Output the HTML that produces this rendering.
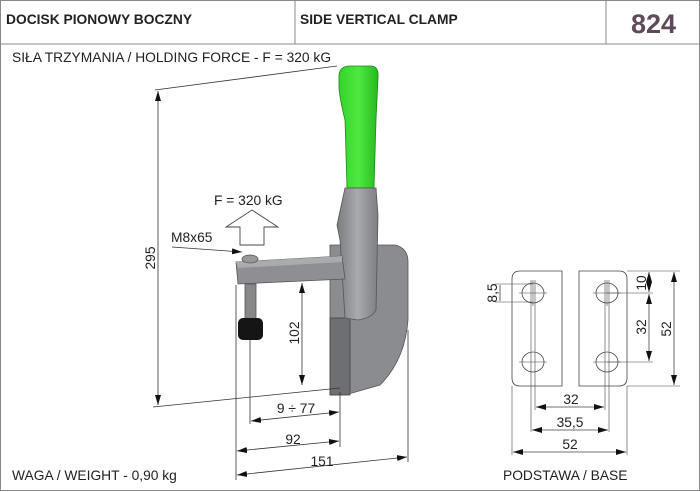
<!DOCTYPE html>
<html><head><meta charset="utf-8"><style>
html,body{margin:0;padding:0;background:#fff}
svg{display:block}
text{font-family:"Liberation Sans",Arial,sans-serif;fill:#222}
</style></head><body>
<svg width="700" height="492" viewBox="0 0 700 492" xmlns="http://www.w3.org/2000/svg">
<defs>
<marker id="a" viewBox="0 0 10 6" refX="10" refY="3" markerWidth="10" markerHeight="6" orient="auto-start-reverse" markerUnits="userSpaceOnUse"><path d="M0,0L10,3L0,6z" fill="#111"/></marker>
<linearGradient id="g" x1="0" x2="1"><stop offset="0" stop-color="#33d42a"/><stop offset="0.5" stop-color="#4ee840"/><stop offset="1" stop-color="#28b820"/></linearGradient>
<linearGradient id="m" x1="0" x2="1"><stop offset="0" stop-color="#7a7c80"/><stop offset="0.5" stop-color="#a8aaae"/><stop offset="1" stop-color="#7c7e82"/></linearGradient>
</defs>
<rect x="0.5" y="0.5" width="699" height="490" fill="none" stroke="#888"/>
<line x1="0" y1="44" x2="700" y2="44" stroke="#888"/>
<line x1="295" y1="0" x2="295" y2="44" stroke="#888"/>
<line x1="606" y1="0" x2="606" y2="44" stroke="#888"/>
<text x="6" y="24" font-size="13.8" font-weight="bold">DOCISK PIONOWY BOCZNY</text>
<text x="300" y="24" font-size="13.8" font-weight="bold">SIDE VERTICAL CLAMP</text>
<text x="631" y="33" font-size="27" font-weight="bold" style="fill:#5e4a58">824</text>
<text x="12" y="62" font-size="13.8">SIŁA TRZYMANIA / HOLDING FORCE - F = 320 kG</text>
<text x="12" y="480" font-size="13.8">WAGA / WEIGHT - 0,90 kg</text>
<text x="503" y="480" font-size="13.8">PODSTAWA / BASE</text>

<path d="M339,75 Q340,66 350,66 L372,66 Q379,67 378,78 L376,120 L374,188 L347,188 L345,120 Q340,100 339,88 Z" fill="url(#g)" stroke="#1a8a14" stroke-width="0.8"/>
<path d="M330,245 L395,245 Q408,248 408,262 L408,320 Q405,360 380,385 L345,395 L330,395 Z" fill="#8a8c90" stroke="#555" stroke-width="0.8"/>
<rect x="330" y="318" width="20" height="77" fill="#6d6f73" stroke="#444" stroke-width="0.8"/>
<path d="M345,188 L376,188 L378,215 L376,310 Q372,318 358,320 L345,318 L340,240 L337,225 Z" fill="url(#m)" stroke="#555" stroke-width="0.8"/>
<path d="M236,262 L342,256 L345,279 L238,284 Z" fill="#8d8f93" stroke="#555" stroke-width="0.8"/>
<path d="M236,262 L342,256 L342,262 L238,268 Z" fill="#a9abaf"/>
<ellipse cx="250" cy="259" rx="8" ry="4" fill="#999" stroke="#555" stroke-width="0.8"/>
<rect x="245" y="284" width="11" height="36" fill="#888" stroke="#555" stroke-width="0.8"/>
<rect x="238" y="318" width="25" height="22" rx="5" fill="#151515"/>
<path d="M240,245 L240,227 L226,227 L252,210 L278,227 L264,227 L264,245 Z" fill="#fff" stroke="#444" stroke-width="0.9"/>
<text x="214" y="205" font-size="13.8">F = 320 kG</text>
<text x="171" y="242" font-size="13.8">M8x65</text>
<line x1="172" y1="247" x2="242" y2="252" stroke="#333" stroke-width="0.8" marker-end="url(#a)"/>

<g stroke="#333" stroke-width="0.8" fill="none">
<line x1="155" y1="90" x2="337" y2="66"/>
<line x1="153" y1="407" x2="340" y2="388"/>
<line x1="158" y1="91" x2="158" y2="405" marker-start="url(#a)" marker-end="url(#a)"/>
<line x1="302" y1="283" x2="302" y2="385" marker-start="url(#a)" marker-end="url(#a)"/>
<line x1="236" y1="285" x2="236" y2="480"/>
<line x1="250" y1="340" x2="250" y2="424"/>
<line x1="340" y1="392" x2="340" y2="447"/>
<line x1="408" y1="330" x2="408" y2="462"/>
<line x1="251" y1="421" x2="339" y2="412" marker-start="url(#a)" marker-end="url(#a)"/>
<line x1="237" y1="451" x2="339" y2="441" marker-start="url(#a)" marker-end="url(#a)"/>
<line x1="237" y1="475" x2="407" y2="457" marker-start="url(#a)" marker-end="url(#a)"/>
</g>
<text transform="translate(155,258) rotate(-90)" font-size="13.8" text-anchor="middle">295</text>
<text transform="translate(299,333) rotate(-90)" font-size="13.8" text-anchor="middle">102</text>
<text x="296" y="413" font-size="13.8" text-anchor="middle">9 ÷ 77</text>
<text x="293" y="444" font-size="13.8" text-anchor="middle">92</text>
<text x="322" y="466" font-size="13.8" text-anchor="middle">151</text>

<g stroke="#444" stroke-width="0.8" fill="none">
<path d="M520,271 L562,271 L562,386 L520,386 Q512,386 512,378 L512,279 Q512,271 520,271 Z"/>
<path d="M579,271 L619,271 Q627,271 627,279 L627,378 Q627,386 619,386 L579,386 Z"/>
<ellipse cx="533" cy="293" rx="11" ry="10"/><ellipse cx="533" cy="362" rx="11" ry="10"/>
<ellipse cx="607" cy="293" rx="11" ry="10"/><ellipse cx="607" cy="362" rx="11" ry="10"/>
<g stroke-width="0.6">
<line x1="519" y1="293" x2="547" y2="293"/><line x1="519" y1="362" x2="547" y2="362"/>
<line x1="593" y1="293" x2="621" y2="293"/><line x1="593" y1="362" x2="621" y2="362"/>
<line x1="531" y1="280" x2="531" y2="432"/><line x1="535" y1="280" x2="535" y2="410"/>
<line x1="605" y1="280" x2="605" y2="410"/><line x1="609" y1="280" x2="609" y2="432"/>
<line x1="533" y1="280" x2="533" y2="306"/><line x1="607" y1="280" x2="607" y2="306"/>
<line x1="512" y1="386" x2="512" y2="455"/><line x1="627" y1="386" x2="627" y2="455"/>
<line x1="495" y1="284" x2="533" y2="284"/><line x1="495" y1="302" x2="533" y2="302"/>
<line x1="627" y1="271" x2="680" y2="271"/><line x1="607" y1="293" x2="653" y2="293"/>
<line x1="607" y1="362" x2="653" y2="362"/><line x1="627" y1="386" x2="680" y2="386"/>
</g>
<line x1="536" y1="407" x2="604" y2="407" marker-start="url(#a)" marker-end="url(#a)"/>
<line x1="532" y1="430" x2="608" y2="430" marker-start="url(#a)" marker-end="url(#a)"/>
<line x1="513" y1="452" x2="626" y2="452" marker-start="url(#a)" marker-end="url(#a)"/>
<line x1="649" y1="272" x2="649" y2="292" marker-start="url(#a)" marker-end="url(#a)"/>
<line x1="649" y1="294" x2="649" y2="361" marker-start="url(#a)" marker-end="url(#a)"/>
<line x1="674" y1="272" x2="674" y2="385" marker-start="url(#a)" marker-end="url(#a)"/>
<line x1="500" y1="285" x2="500" y2="301"/>
</g>
<text x="571" y="404" font-size="13.8" text-anchor="middle">32</text>
<text x="570" y="427" font-size="13.8" text-anchor="middle">35,5</text>
<text x="570" y="449" font-size="13.8" text-anchor="middle">52</text>
<text transform="translate(646,283) rotate(-90)" font-size="13.8" text-anchor="middle">10</text>
<text transform="translate(646,327) rotate(-90)" font-size="13.8" text-anchor="middle">32</text>
<text transform="translate(671,329) rotate(-90)" font-size="13.8" text-anchor="middle">52</text>
<text transform="translate(497,293) rotate(-90)" font-size="13.8" text-anchor="middle">8,5</text>
</svg>
</body></html>
